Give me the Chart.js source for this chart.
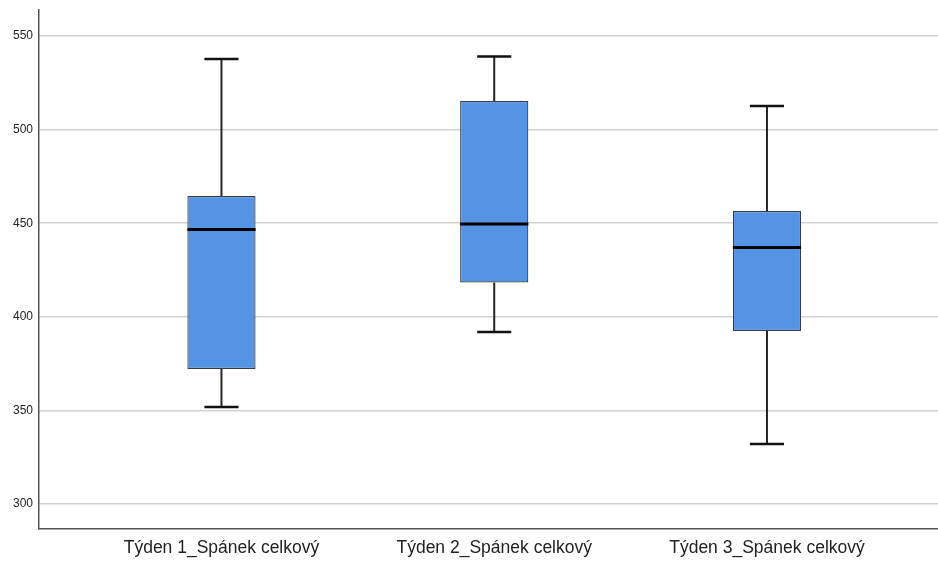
<!DOCTYPE html>
<html>
<head>
<meta charset="utf-8">
<script src="https://cdn.jsdelivr.net/npm/chart.js@4.4.1/dist/chart.umd.min.js"></script>
<style>
  html, body { margin: 0; padding: 0; background: #ffffff; }
  #wrap { width: 938px; height: 561px; }
</style>
</head>
<body>
<div id="wrap"><canvas id="c" width="938" height="561"></canvas></div>
<script>
// Weekly total sleep (minutes): five-number summaries per week
const categories = ['Týden 1_Spánek celkový', 'Týden 2_Spánek celkový', 'Týden 3_Spánek celkový'];
const whiskerLow  = [351.8, 391.9, 332.1];
const quartile1   = [372.1, 418.3, 392.4];
const medians     = [446.6, 449.6, 437.0];
const quartile3   = [464.5, 515.3, 456.5];
const whiskerHigh = [537.7, 539.0, 512.6];
const yTicks = [300, 350, 400, 450, 500, 550];

const boxData = categories.map((c, i) => ({ x: i + 1, y: [quartile1[i], quartile3[i]] }));

// Whiskers, caps and median lines drawn on top of the floating bars
const boxplotParts = {
  id: 'boxplotParts',
  afterDatasetsDraw(chart) {
    const ctx = chart.ctx;
    const yScale = chart.scales.y;
    const meta = chart.getDatasetMeta(0);
    ctx.save();
    meta.data.forEach((bar, i) => {
      const x = bar.x;
      const w = bar.width;
      const yHi = yScale.getPixelForValue(whiskerHigh[i]);
      const yLo = yScale.getPixelForValue(whiskerLow[i]);
      const yQ3 = yScale.getPixelForValue(quartile3[i]);
      const yQ1 = yScale.getPixelForValue(quartile1[i]);
      const yMed = yScale.getPixelForValue(medians[i]);
      ctx.strokeStyle = '#262626';
      ctx.lineWidth = 2;
      ctx.beginPath();
      ctx.moveTo(x, yQ3); ctx.lineTo(x, yHi);
      ctx.moveTo(x, yQ1); ctx.lineTo(x, yLo);
      ctx.stroke();
      ctx.strokeStyle = '#111111';
      ctx.lineWidth = 2.5;
      ctx.beginPath();
      ctx.moveTo(x - w / 4, yHi); ctx.lineTo(x + w / 4, yHi);
      ctx.moveTo(x - w / 4, yLo); ctx.lineTo(x + w / 4, yLo);
      ctx.stroke();
      ctx.strokeStyle = '#000000';
      ctx.lineWidth = 3;
      ctx.beginPath();
      ctx.moveTo(x - w / 2, yMed); ctx.lineTo(x + w / 2, yMed);
      ctx.stroke();
    });
    ctx.restore();
  }
};

new Chart(document.getElementById('c'), {
  type: 'bar',
  data: {
    datasets: [{
      data: boxData,
      backgroundColor: '#5593e4',
      borderColor: '#353b44',
      borderWidth: 1.2,
      borderSkipped: false,
      categoryPercentage: 1,
      barPercentage: 0.25
    }]
  },
  plugins: [boxplotParts],
  options: {
    responsive: false,
    animation: false,
    layout: { padding: { top: 10, right: 0, left: 0, bottom: 0 } },
    plugins: { legend: { display: false }, tooltip: { enabled: false } },
    scales: {
      x: {
        type: 'linear',
        offset: false,
        min: 0.331,
        max: 3.627,
        afterBuildTicks(scale) { scale.ticks = categories.map((c, i) => ({ value: i + 1 })); },
        afterFit(scale) { scale.height = 32; scale.paddingLeft = 0; scale.paddingRight = 0; },
        grid: { display: false, drawTicks: false, offset: false },
        border: { display: true, color: '#555555', width: 1.5 },
        ticks: {
          padding: 9,
          maxRotation: 0,
          autoSkip: false,
          color: '#222222',
          font: { family: 'Liberation Sans, Arial, sans-serif', size: 17.5 },
          callback: (v) => categories[Math.round(v) - 1]
        }
      },
      y: {
        min: 286.64,
        max: 563.9,
        afterBuildTicks(scale) { scale.ticks = yTicks.map(v => ({ value: v })); },
        afterFit(scale) { scale.width = 39; scale.paddingTop = 0; scale.paddingBottom = 0; },
        grid: { color: '#d2d2d2', lineWidth: 1.5, drawTicks: false },
        border: { display: true, color: '#555555', width: 1.5 },
        ticks: {
          padding: 6,
          color: '#222222',
          font: { family: 'Liberation Sans, Arial, sans-serif', size: 12 }
        }
      }
    }
  }
});
</script>
</body>
</html>
